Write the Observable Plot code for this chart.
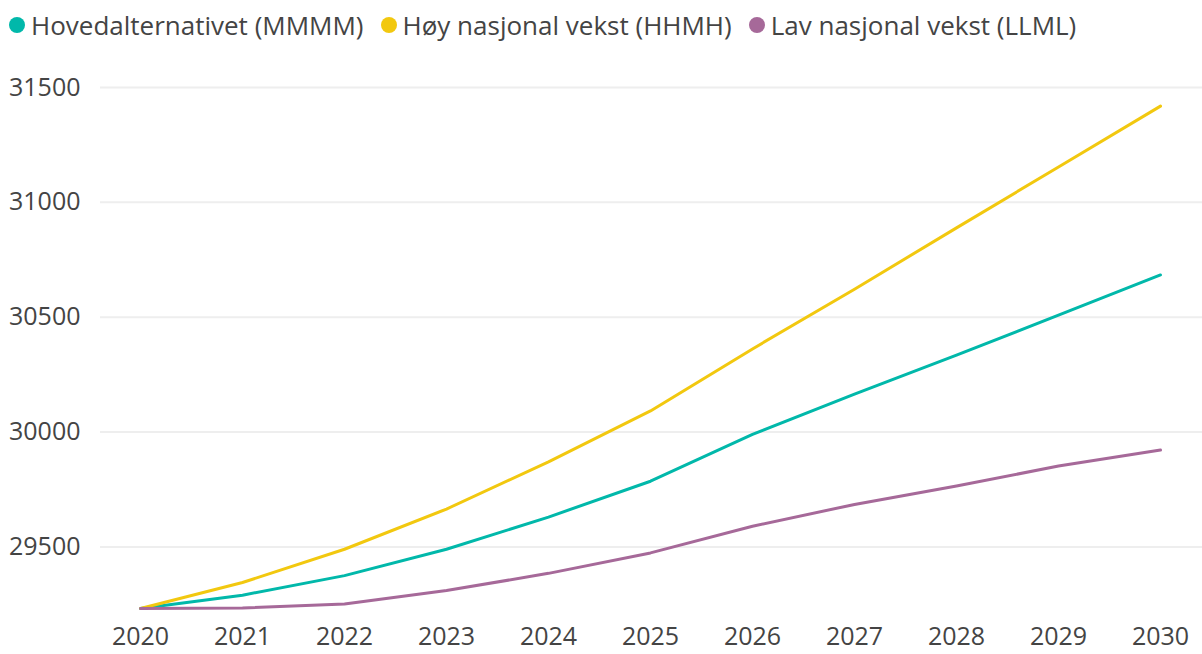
<!DOCTYPE html>
<html>
<head>
<meta charset="utf-8">
<script src="https://cdn.jsdelivr.net/npm/d3@7"></script>
<script src="https://cdn.jsdelivr.net/npm/@observablehq/plot@0.6"></script>
<style>
  html, body { margin: 0; padding: 0; background: #fff; }
  body { width: 1202px; height: 654px; overflow: hidden; font-family: "Open Sans", "Noto Sans", sans-serif; }
  #legend { height: 50px; display: flex; align-items: center; padding-left: 9px; font-size: 26px; color: #444; }
  .item { display: flex; align-items: center; margin-right: 17px; white-space: nowrap; }
  .dot { width: 16px; height: 16px; border-radius: 50%; margin-right: 6px; }
</style>
</head>
<body>
<div id="legend"></div>
<div id="chart"></div>
<script>
const years = [2020, 2021, 2022, 2023, 2024, 2025, 2026, 2027, 2028, 2029, 2030];
const seriesNames = ["Hovedalternativet (MMMM)", "Høy nasjonal vekst (HHMH)", "Lav nasjonal vekst (LLML)"];
const seriesColors = ["#01B8AA", "#F2C80F", "#A66999"];
const mmmm = [29232, 29290, 29375, 29490, 29630, 29786, 29990, 30165, 30335, 30509, 30684];
const hhmh = [29232, 29345, 29490, 29665, 29870, 30092, 30362, 30622, 30889, 31154, 31419];
const llml = [29232, 29234, 29252, 29310, 29385, 29474, 29590, 29685, 29765, 29852, 29922];
const yTicks = [29500, 30000, 30500, 31000, 31500];

const seriesValues = [mmmm, hhmh, llml];
const data = [];
seriesNames.forEach((name, i) => {
  years.forEach((yr, j) => data.push({series: name, year: yr, value: seriesValues[i][j]}));
});

const legend = document.getElementById("legend");
seriesNames.forEach((name, i) => {
  const it = document.createElement("div");
  it.className = "item";
  const d = document.createElement("span");
  d.className = "dot";
  d.style.background = seriesColors[i];
  const t = document.createElement("span");
  t.textContent = name;
  it.appendChild(d); it.appendChild(t);
  legend.appendChild(it);
});

const chart = Plot.plot({
  width: 1202,
  height: 604,
  marginLeft: 100,
  marginRight: 0,
  marginTop: 37,
  marginBottom: 46,
  style: {fontFamily: "'Open Sans', 'Noto Sans', sans-serif", fontSize: "25px", color: "#444", background: "#fff"},
  x: {domain: [2020 - 40/102, 2030 + 42/102], ticks: years, tickFormat: d => String(d), tickSize: 0, tickPadding: 19, label: null},
  y: {domain: [29232, 31500], ticks: yTicks, tickFormat: d => String(d), tickSize: 0, tickPadding: 20, label: null},
  color: {domain: seriesNames, range: seriesColors},
  marks: [
    Plot.ruleY(yTicks, {stroke: "#eeeeee", strokeWidth: 2}),
    Plot.line(data, {x: "year", y: "value", z: "series", stroke: "series", strokeWidth: 3}),
    Plot.axisX({ticks: years, tickFormat: d => String(d), tickSize: 0, tickPadding: 19, label: null}),
    Plot.axisY({ticks: yTicks, tickFormat: d => String(d), tickSize: 0, tickPadding: 20, label: null})
  ]
});
document.getElementById("chart").appendChild(chart);
</script>
</body>
</html>
